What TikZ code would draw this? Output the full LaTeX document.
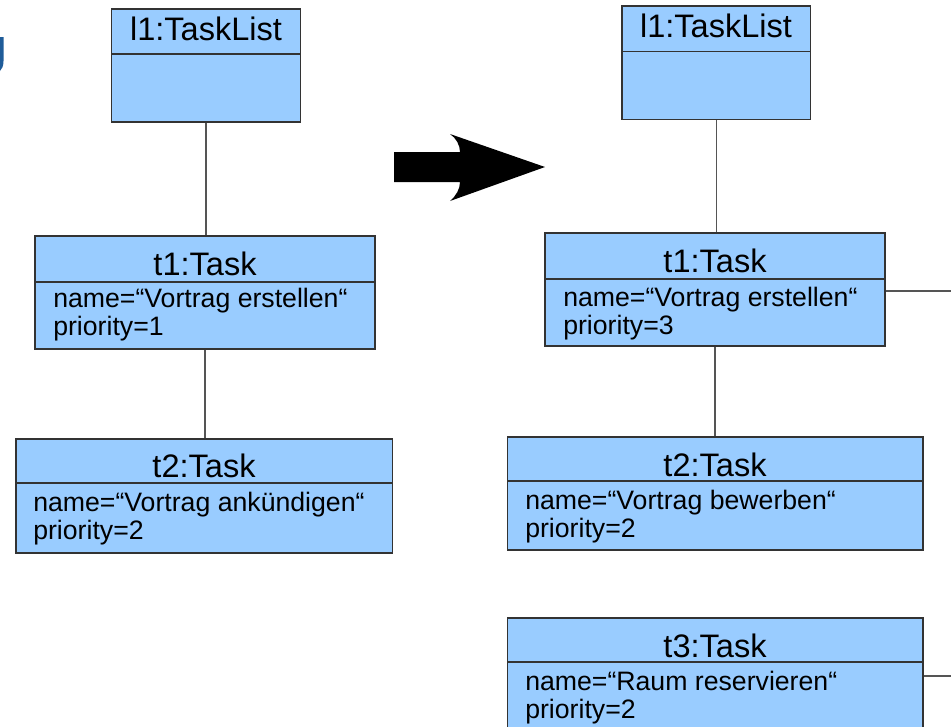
\documentclass[tikz,border=0pt]{standalone}
\usepackage{fontspec}
\setmainfont{Liberation Sans}
\usetikzlibrary{fit}
\definecolor{boxfill}{HTML}{99CCFF}
\definecolor{boxline}{HTML}{333333}
\definecolor{wirecol}{HTML}{555555}
\definecolor{logoblue}{HTML}{1F5C99}
\tikzset{
  objbox/.style={draw=boxline, fill=boxfill, line width=0.8pt, inner sep=0pt, fit={#1}},
  divider/.style={draw=boxline, line width=0.8pt},
  wire/.style={draw=wirecol, line width=0.8pt},
  objtitle/.style={anchor=base, inner sep=0pt, font=\fontsize{24.4pt}{28pt}\selectfont},
  attr/.style={anchor=base west, inner sep=0pt, font=\fontsize{20pt}{23pt}\selectfont},
}
\begin{document}
\begin{tikzpicture}[x=0.75pt,y=-0.75pt]
\useasboundingbox (0,0) rectangle (951,726);

% cut-off logo glyph at the left margin
\fill[logoblue] (0,37) -- (3.5,37) -- (3.5,61) .. controls (3.5,66) and (2,69) .. (0,71) -- cycle;

% ---------- state before ----------
\node[objbox={(111.5,9) (300.5,122)}] (l1L) {};
\draw[divider] (111.5,54) -- (300.5,54);
\node[objtitle] (l1Lt) at (206,40) {l1:TaskList};

\node[objbox={(35,236) (375,349)}] (t1L) {};
\draw[divider] (35,282) -- (375,282);
\node[objtitle] (t1Lt) at (205,275) {t1:Task};
\node[attr] (t1La) at (53,307) {name=“Vortrag erstellen“};
\node[attr] (t1Lb) at (53,335) {priority=1};

\node[objbox={(16,439) (392.5,553)}] (t2L) {};
\draw[divider] (16,483) -- (392.5,483);
\node[objtitle] (t2Lt) at (204,477) {t2:Task};
\node[attr] (t2La) at (33,511) {name=“Vortrag ankündigen“};
\node[attr] (t2Lb) at (33,539) {priority=2};

\draw[wire] (l1L.south) -- (l1L.south |- t1L.north);
\draw[wire] (t1L.south) -- (t1L.south |- t2L.north);

% ---------- transition arrow ----------
\fill[black] (394,152) -- (460,152) .. controls (460,145) and (456,138) .. (450,134)
  -- (545,167) -- (450,201) .. controls (456,196) and (460,189) .. (460,182)
  -- (394,182) -- cycle;

% ---------- state after ----------
\node[objbox={(622,6) (810.5,119.5)}] (l1R) {};
\draw[divider] (622,51.5) -- (810.5,51.5);
\node[objtitle] (l1Rt) at (716,37) {l1:TaskList};

\node[objbox={(545,233) (885,346)}] (t1R) {};
\draw[divider] (545,279) -- (885,279);
\node[objtitle] (t1Rt) at (715,272) {t1:Task};
\node[attr] (t1Ra) at (563,306) {name=“Vortrag erstellen“};
\node[attr] (t1Rb) at (563,334) {priority=3};

\node[objbox={(507.5,437) (923,550)}] (t2R) {};
\draw[divider] (507.5,481) -- (923,481);
\node[objtitle] (t2Rt) at (715,476) {t2:Task};
\node[attr] (t2Ra) at (525,509) {name=“Vortrag bewerben“};
\node[attr] (t2Rb) at (525,537) {priority=2};

\node[objbox={(507.5,618) (923,740)}] (t3R) {};
\draw[divider] (507.5,662) -- (923,662);
\node[objtitle] (t3Rt) at (715,657) {t3:Task};
\node[attr] (t3Ra) at (525,690) {name=“Raum reservieren“};
\node[attr] (t3Rb) at (525,718) {priority=2};

\draw[wire] (l1R.south) -- (l1R.south |- t1R.north);
\draw[wire] (t1R.south) -- (t1R.south |- t2R.north);

% links leaving to the right
\coordinate (outA) at (951,291);
\coordinate (outB) at (951,676);
\draw[wire] (t1R.east |- outA) -- (outA);
\draw[wire] (t3R.east |- outB) -- (outB);
\end{tikzpicture}
\end{document}
